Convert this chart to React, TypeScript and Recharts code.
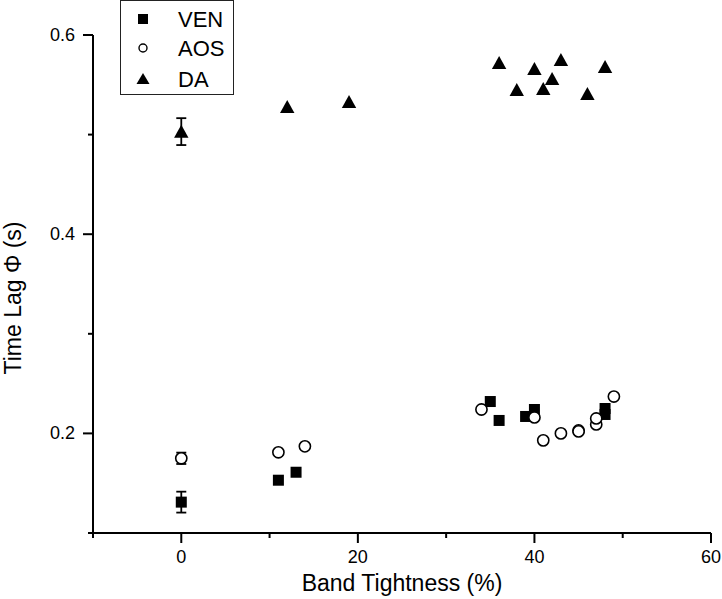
import React from 'react';
import { ScatterChart, Scatter, XAxis, YAxis, ErrorBar, Legend } from 'recharts';

const FONT = '"Liberation Sans", Arial, Helvetica, sans-serif';

// Series: VEN (filled squares)
const venX = [0, 11, 13, 35, 36, 39, 40, 48, 48];
const venY = [0.131, 0.153, 0.161, 0.232, 0.213, 0.217, 0.224, 0.225, 0.219];
const venErr = [0.0105, null, null, null, null, null, null, null, null];

// Series: AOS (open circles)
const aosX = [0, 11, 14, 34, 40, 41, 43, 45, 45, 47, 47, 49];
const aosY = [0.175, 0.181, 0.187, 0.224, 0.216, 0.193, 0.2, 0.203, 0.202, 0.209, 0.215, 0.237];
const aosErr = [0.0057, null, null, null, null, null, null, null, null, null, null, null];

// Series: DA (filled triangles)
const daX = [0, 12, 19, 36, 38, 40, 41, 42, 43, 46, 48];
const daY = [0.503, 0.528, 0.533, 0.572, 0.545, 0.566, 0.546, 0.556, 0.575, 0.541, 0.568];
const daErr = [0.0135, null, null, null, null, null, null, null, null, null, null];

// Axis ticks
const xTicks = [-10, 0, 10, 20, 30, 40, 50, 60];
const xTickLabels = ['', '0', '', '20', '', '40', '', '60'];
const yTicks = [0.1, 0.2, 0.3, 0.4, 0.5, 0.6];
const yTickLabels = ['', '0.2', '', '0.4', '', '0.6'];

const seriesNames = ['VEN', 'AOS', 'DA'];
const xTitle = 'Band Tightness (%)';
const yTitle = 'Time Lag \u03A6 (s)';

const build = (xs: number[], ys: number[], es: (number | null)[]) =>
  xs.map((x, i) => ({ x, y: ys[i], err: es[i] == null ? undefined : es[i] }));

const venData = build(venX, venY, venErr);
const aosData = build(aosX, aosY, aosErr);
const daData = build(daX, daY, daErr);

const SquareShape = (props: any) => {
  const { cx, cy } = props;
  if (cx == null || cy == null) return <g />;
  return <rect x={cx - 5.5} y={cy - 5.5} width={11} height={11} fill="#000" />;
};
const CircleShape = (props: any) => {
  const { cx, cy } = props;
  if (cx == null || cy == null) return <g />;
  return <circle cx={cx} cy={cy} r={5.6} fill="#fff" stroke="#000" strokeWidth={1.6} />;
};
const TriangleShape = (props: any) => {
  const { cx, cy } = props;
  if (cx == null || cy == null) return <g />;
  return (
    <polygon
      points={`${cx},${cy - 6.8} ${cx - 7.2},${cy + 6.2} ${cx + 7.2},${cy + 6.2}`}
      fill="#000"
    />
  );
};

const XTick = (props: any) => {
  const { x, y, payload } = props;
  const i = xTicks.indexOf(payload.value);
  const label = i >= 0 ? xTickLabels[i] : '';
  const len = label ? 10 : 5;
  return (
    <g>
      <line x1={x} x2={x} y1={y} y2={y + len} stroke="#000" strokeWidth={2} />
      {label ? (
        <text x={x} y={y + 30} textAnchor="middle" fontSize={18} fontFamily={FONT} fill="#000">
          {label}
        </text>
      ) : null}
    </g>
  );
};

const YTick = (props: any) => {
  const { x, y, payload } = props;
  let i = -1;
  yTicks.forEach((t, k) => {
    if (Math.abs(t - payload.value) < 1e-9) i = k;
  });
  const label = i >= 0 ? yTickLabels[i] : '';
  const len = label ? 10 : 5;
  return (
    <g>
      <line x1={x - len} x2={x} y1={y} y2={y} stroke="#000" strokeWidth={2} />
      {label ? (
        <text x={x - 18} y={y + 6} textAnchor="end" fontSize={18} fontFamily={FONT} fill="#000">
          {label}
        </text>
      ) : null}
    </g>
  );
};

const XLabel = (props: any) => {
  const { viewBox } = props;
  const cx = viewBox.x + viewBox.width / 2;
  return (
    <text x={cx} y={viewBox.y + 58} textAnchor="middle" fontSize={23} fontFamily={FONT} fill="#000">
      {xTitle}
    </text>
  );
};

const YLabel = (props: any) => {
  const { viewBox } = props;
  const cy = viewBox.y + viewBox.height / 2 + 14;
  const x = 21;
  return (
    <text
      x={x}
      y={cy}
      transform={`rotate(-90 ${x} ${cy})`}
      textAnchor="middle"
      fontSize={23}
      fontFamily={FONT}
      fill="#000"
    >
      {yTitle}
    </text>
  );
};

const legendMarker = (name: string, cx: number, cy: number) => {
  if (name === 'VEN') return <rect x={cx - 5} y={cy - 5} width={10} height={10} fill="#000" />;
  if (name === 'AOS') return <circle cx={cx} cy={cy} r={4} fill="#fff" stroke="#000" strokeWidth={1.4} />;
  return <polygon points={`${cx},${cy - 6} ${cx - 6.5},${cy + 5} ${cx + 6.5},${cy + 5}`} fill="#000" />;
};

const LegendBox = () => {
  const rows = [19, 48, 79];
  return (
    <svg width={114} height={95} style={{ display: 'block' }}>
      <rect x={0.5} y={0.5} width={113} height={94} fill="#fff" stroke="#222" strokeWidth={1} />
      {seriesNames.map((n, i) => (
        <g key={n}>
          {legendMarker(n, 23, rows[i])}
          <text x={58} y={rows[i] + 8} fontSize={22} fontFamily={FONT} fill="#000">
            {n}
          </text>
        </g>
      ))}
    </svg>
  );
};

export default function App() {
  return (
    <div style={{ position: 'absolute', left: 0, top: 0, width: 722, height: 599, background: '#fff' }}>
      <ScatterChart width={722} height={599} margin={{ top: 35, right: 11, bottom: 6, left: 0 }}>
        <XAxis
          type="number"
          dataKey="x"
          domain={[-10, 60]}
          ticks={xTicks}
          allowDataOverflow
          interval={0}
          axisLine={{ stroke: '#000', strokeWidth: 2 }}
          tickLine={false}
          tickSize={0}
          tickMargin={0}
          tick={<XTick />}
          height={60}
          label={<XLabel />}
        />
        <YAxis
          type="number"
          dataKey="y"
          domain={[0.1, 0.6]}
          ticks={yTicks}
          allowDataOverflow
          interval={0}
          axisLine={{ stroke: '#000', strokeWidth: 2 }}
          tickLine={false}
          tickSize={0}
          tickMargin={0}
          tick={<YTick />}
          width={93}
          label={<YLabel />}
        />
        <Legend
          layout="vertical"
          align="center"
          verticalAlign="middle"
          content={() => <LegendBox />}
          wrapperStyle={{ position: 'absolute', left: 120, top: 0, width: 114, height: 95 }}
        />
        <Scatter name="VEN" data={venData} shape={<SquareShape />} fill="#000" isAnimationActive={false}>
          <ErrorBar dataKey="err" direction="y" width={5} stroke="#000" strokeWidth={1.8} />
        </Scatter>
        <Scatter name="AOS" data={aosData} shape={<CircleShape />} fill="#000" isAnimationActive={false}>
          <ErrorBar dataKey="err" direction="y" width={5} stroke="#000" strokeWidth={1.8} />
        </Scatter>
        <Scatter name="DA" data={daData} shape={<TriangleShape />} fill="#000" isAnimationActive={false}>
          <ErrorBar dataKey="err" direction="y" width={5} stroke="#000" strokeWidth={1.8} />
        </Scatter>
      </ScatterChart>
    </div>
  );
}
